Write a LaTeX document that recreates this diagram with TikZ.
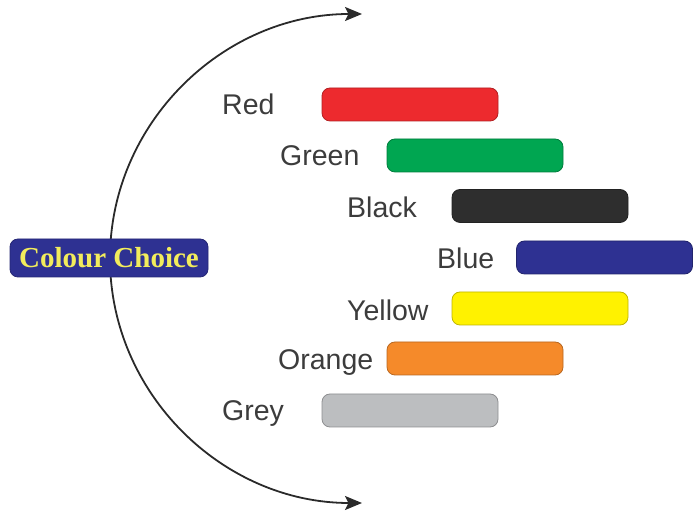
\documentclass[tikz,border=0pt]{standalone}
\usepackage{fontspec}
\setmainfont{Liberation Sans}
\newfontfamily\choicefont{Liberation Serif}
\usetikzlibrary{arrows.meta}
\definecolor{cRed}{HTML}{ED2A2E}
\definecolor{cGreen}{HTML}{00A651}
\definecolor{cBlack}{HTML}{2E2E2E}
\definecolor{cBlue}{HTML}{2E3192}
\definecolor{cYellow}{HTML}{FFF200}
\definecolor{cOrange}{HTML}{F58A2A}
\definecolor{cGrey}{HTML}{BCBEC0}
\definecolor{txt}{HTML}{3C3C3C}
\definecolor{arcc}{HTML}{2A2A2A}
\definecolor{chtxt}{HTML}{F2EC5C}
\tikzset{
  bar/.style={draw=#1!75!black, fill=#1, rounded corners=8pt, line width=0.8pt,
    minimum width=176pt, minimum height=33pt, inner sep=0pt},
  lbl/.style={anchor=base west, inner sep=0pt, text=txt, font=\fontsize{28.5}{30}\selectfont},
  choice/.style={fill=cBlue, draw=cBlue!80!black, rounded corners=8pt, line width=0.8pt,
    minimum width=198pt, minimum height=38pt, inner sep=0pt,
    text=chtxt, font=\choicefont\bfseries\fontsize{29}{30}\selectfont},
  tip/.style={Stealth[length=17pt,width=14pt,inset=3.5pt]},
}
\begin{document}
\begin{tikzpicture}[x=1pt,y=1pt]
\useasboundingbox (0,0) rectangle (700,513);
% arc with arrows
\coordinate (top) at (362,499);
\draw[arcc, line width=1.8pt, {Stealth[length=17pt,width=14pt,inset=3.5pt]}-{Stealth[length=17pt,width=14pt,inset=3.5pt]}]
  (top) arc[start angle=90, end angle=270, x radius=252, y radius=244.5] coordinate (bot);
% central node
\node[choice] (cc) at (109,255) {Colour Choice};
% bars
\node[bar=cRed]    (bRed)    at (410,408.5) {};
\node[bar=cGreen]  (bGreen)  at (475,357.5) {};
\node[bar=cBlack]  (bBlack)  at (540,307) {};
\node[bar=cBlue]   (bBlue)   at (604.5,255.5) {};
\node[bar=cYellow] (bYellow) at (540,204.5) {};
\node[bar=cOrange] (bOrange) at (475,154.5) {};
\node[bar=cGrey]   (bGrey)   at (410,102.5) {};
% labels
\node[lbl] (lRed)    at (222,398) {Red};
\node[lbl] (lGreen)  at (280,347) {Green};
\node[lbl] (lBlack)  at (347,295.5) {Black};
\node[lbl] (lBlue)   at (437,244.5) {Blue};
\node[lbl] (lYellow) at (347,192.5) {Yellow};
\node[lbl] (lOrange) at (278,143.5) {Orange};
\node[lbl] (lGrey)   at (222,92.5) {Grey};
\end{tikzpicture}
\end{document}
